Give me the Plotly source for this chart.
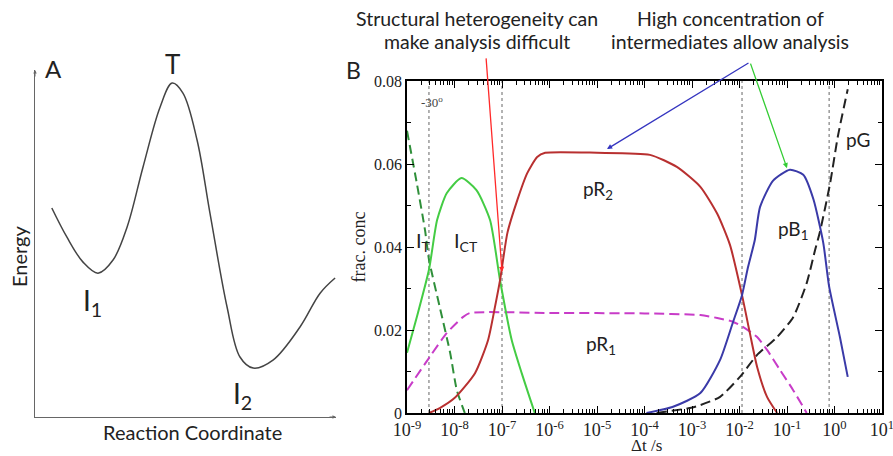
import plotly.graph_objects as go
import numpy as np

W, H = 893, 456

# ---------------- Panel A data (energy profile) ----------------
rc = [0.56, 1.06, 1.6, 2.1, 2.6, 3.07, 3.6, 4.17, 4.57, 4.93, 5.4, 5.83, 6.4, 6.83, 7.27, 7.93, 8.83, 9.5, 10.0]
energy = [6.06, 5.22, 4.49, 4.17, 4.55, 5.51, 7.25, 8.99, 9.68, 9.39, 8.03, 5.91, 3.19, 1.74, 1.42, 1.65, 2.61, 3.59, 4.03]

# ---------------- Panel B data (fractional concentrations) ----------------
t_IT = [1e-9, 1.6e-9, 2.4e-9, 2.9e-9, 4.9e-9, 8.1e-9, 1.12e-8, 1.65e-8]
y_IT = [0.068, 0.0555, 0.044, 0.037, 0.0255, 0.0145, 0.0055, 0.0]

t_ICT = [1e-9, 1.6e-9, 2.9e-9, 4.3e-9, 6.9e-9, 1.4e-8, 2.9e-8, 5.6e-8, 9.1e-8, 1.6e-7, 2.6e-7, 4.9e-7]
y_ICT = [0.0145, 0.023, 0.0345, 0.0465, 0.053, 0.0566, 0.0537, 0.0465, 0.032, 0.0176, 0.0096, 0.0]

t_pR2 = [2.9e-9, 4.9e-9, 1.0e-8, 2.7e-8, 5.1e-8, 7.1e-8, 9.1e-8, 1.3e-7, 2.1e-7, 3.4e-7, 5.5e-7, 8.1e-7,
         1e-5, 1.3e-4, 4.8e-4, 1.5e-3, 3.4e-3, 6.3e-3, 1.13e-2, 1.65e-2, 2.35e-2, 3.8e-2, 6.2e-2]
y_pR2 = [0.0, 0.0012, 0.0036, 0.0096, 0.0176, 0.0255, 0.032, 0.0434, 0.0513, 0.0578, 0.0617, 0.0627,
         0.0627, 0.0622, 0.0593, 0.0545, 0.048, 0.0405, 0.0284, 0.0193, 0.0111, 0.0039, 0.0]

t_pR1 = [1e-9, 3e-9, 6.9e-9, 1.5e-8, 2.1e-8, 1e-6, 1e-4, 1.5e-3, 3.4e-3, 7.2e-3, 1.2e-2, 2.35e-2, 3.8e-2, 7.1e-2, 0.135, 0.26]
y_pR1 = [0.0055, 0.0135, 0.0193, 0.0231, 0.0241, 0.0241, 0.0240, 0.0236, 0.0229, 0.022, 0.0207, 0.0183, 0.0152, 0.0104, 0.0055, 0.0]

t_pB1 = [1.1e-4, 4e-4, 1.5e-3, 3.9e-3, 7.2e-3, 1.13e-2, 1.5e-2, 2.1e-2, 2.7e-2, 5.1e-2, 0.115, 0.22, 0.36, 0.58, 0.77, 1.3, 1.9]
y_pB1 = [0.0, 0.0015, 0.0048, 0.0128, 0.0217, 0.0284, 0.035, 0.0417, 0.0496, 0.056, 0.0586, 0.0574, 0.0515, 0.041, 0.0305, 0.0183, 0.0087]

t_pG = [1.8e-4, 9e-4, 1.5e-3, 3.9e-3, 1.02e-2, 2.35e-2, 6.2e-2, 0.135, 0.26, 0.39, 0.49, 0.81, 1.17, 1.9]
y_pG = [0.0, 0.0012, 0.0019, 0.0039, 0.0087, 0.014, 0.0183, 0.0231, 0.0313, 0.0393, 0.0435, 0.0554, 0.0665, 0.078]

t_marks = [2.9e-9, 1e-7, 1.13e-2, 0.77]

x_tickvals = [10.0 ** k for k in range(-9, 2)]
x_ticktext = ["10<sup>%d</sup>" % k for k in range(-9, 2)]
y_tickvals = [0, 0.02, 0.04, 0.06, 0.08]
y_ticktext = ["0", "0.02", "0.04", "0.06", "0.08"]


def px(x):
    return x / W


def py(y):
    return 1 - y / H


fig = go.Figure()

# Panel A
fig.add_trace(go.Scatter(x=rc, y=energy, mode="lines", line=dict(color="#444444", width=1.5, shape="spline", smoothing=1.0),
                         xaxis="x", yaxis="y", showlegend=False, hoverinfo="skip"))

# Panel B vertical dotted markers
for tm in t_marks:
    fig.add_trace(go.Scatter(x=[tm, tm], y=[0, 0.08], mode="lines", line=dict(color="#666666", width=1, dash="dot"),
                             xaxis="x2", yaxis="y2", showlegend=False, hoverinfo="skip"))

series = [
    (t_pR1, y_pR1, "#c83cc8", "10px,5px"),
    (t_pG, y_pG, "#222222", "10px,5px"),
    (t_IT, y_IT, "#2f8f3a", "9px,5px"),
    (t_ICT, y_ICT, "#44cc44", "solid"),
    (t_pR2, y_pR2, "#b83030", "solid"),
    (t_pB1, y_pB1, "#3a3aa8", "solid"),
]
for tx, yy, col, dash in series:
    fig.add_trace(go.Scatter(x=tx, y=yy, mode="lines",
                             line=dict(color=col, width=2, dash=dash, shape="spline", smoothing=0.6),
                             xaxis="x2", yaxis="y2", showlegend=False, hoverinfo="skip"))

minor_x = [m * 10.0 ** k for k in range(-9, 1) for m in range(2, 10)]

serif = "Liberation Serif"
sans = "Lato"

fig.update_layout(
    template="none",
    width=W, height=H,
    margin=dict(l=0, r=0, t=0, b=0, autoexpand=False),
    paper_bgcolor="white", plot_bgcolor="white",
    xaxis=dict(domain=[px(35), px(336)], range=[0, 10.03], showline=True, linecolor="#666666", linewidth=1,
               showticklabels=False, ticks="", showgrid=False, zeroline=False, fixedrange=True, automargin=False),
    yaxis=dict(domain=[py(417), py(70)], range=[0, 10.06], showline=True, linecolor="#666666", linewidth=1,
               showticklabels=False, ticks="", showgrid=False, zeroline=False, fixedrange=True, automargin=False),
    xaxis2=dict(domain=[px(407), px(882)], type="log", range=[-9, 1], anchor="y2", automargin=False,
                ticklabeloverflow="allow",
                showline=True, linecolor="black", linewidth=1.5, mirror="ticks",
                tickmode="array", tickvals=x_tickvals, ticktext=x_ticktext,
                ticks="inside", ticklen=7, tickwidth=1.2, tickcolor="black",
                minor=dict(tickmode="array", tickvals=minor_x, ticks="inside", ticklen=4, tickcolor="black", showgrid=False),
                tickfont=dict(family=serif, size=18, color="#222"),
                showgrid=False, zeroline=False),
    yaxis2=dict(domain=[py(413), py(81)], range=[0, 0.08], anchor="x2", automargin=False,
                showline=True, linecolor="black", linewidth=1.5, mirror="ticks",
                tickmode="array", tickvals=y_tickvals, ticktext=y_ticktext,
                ticks="inside", ticklen=7, tickwidth=1.2, tickcolor="black",
                minor=dict(tickmode="array", tickvals=[0.01, 0.03, 0.05, 0.07], ticks="inside", ticklen=4, tickcolor="black"),
                tickfont=dict(family=serif, size=16, color="#222"),
                showgrid=False, zeroline=False,
                title=dict(text="frac. conc", font=dict(family=serif, size=18, color="#222"), standoff=4)),
)

ann = []


def txt(x, y, s, size, family=sans, color="#222222", angle=0):
    ann.append(dict(x=px(x), y=py(y), xref="paper", yref="paper", text=s, showarrow=False,
                    font=dict(family=family, size=size, color=color), textangle=angle,
                    xanchor="center", yanchor="middle"))


# Panel A labels
txt(53, 69, "A", 24)
txt(172, 64, "T", 26)
txt(92, 302, "I<sub>1</sub>", 28)
txt(242, 395, "I<sub>2</sub>", 28)
txt(19, 257, "Energy", 20, angle=-90)
txt(192, 432, "Reaction Coordinate", 20)

# Panel B labels
txt(353, 70, "B", 23)
txt(432, 102, "-30<sup>o</sup>", 13, family=serif, color="#444")
txt(423, 241, "I<sub>T</sub>", 20)
txt(466, 241, "I<sub>CT</sub>", 20)
txt(598, 190, "pR<sub>2</sub>", 19)
txt(601, 345, "pR<sub>1</sub>", 19)
txt(793, 230, "pB<sub>1</sub>", 19)
txt(858, 139, "pG", 19)
txt(646, 445, "Δt /s", 17, family=serif)

txt(477, 19, "Structural heterogeneity can", 19.5)
txt(477, 41, "make analysis difficult", 19.5)
txt(730, 19, "High concentration of", 19.5)
txt(730, 41, "intermediates allow analysis", 19.5)

# axis arrowheads panel A
ann.append(dict(x=0, y=10.06, xref="x", yref="y", ax=0, ay=8, axref="pixel", ayref="pixel", text="",
                showarrow=True, arrowhead=2, arrowsize=0.7, arrowwidth=1, arrowcolor="#666666"))
ann.append(dict(x=10.03, y=0, xref="x", yref="y", ax=-8, ay=0, text="",
                showarrow=True, arrowhead=2, arrowsize=0.7, arrowwidth=1, arrowcolor="#666666"))

# callout arrows panel B (log axis -> log10 coordinates)
ann.append(dict(x=-7.0, y=0.034, xref="x2", yref="y2", ax=-16, ay=-215, text="",
                showarrow=True, arrowhead=2, arrowsize=0.8, arrowwidth=1.3, arrowcolor="#ff2a2a"))
ann.append(dict(x=-4.79, y=0.0636, xref="x2", yref="y2", ax=143, ay=-87, text="",
                showarrow=True, arrowhead=2, arrowsize=0.8, arrowwidth=1.3, arrowcolor="#3535c0"))
ann.append(dict(x=-1.0, y=0.059, xref="x2", yref="y2", ax=-37, ay=-106, text="",
                showarrow=True, arrowhead=2, arrowsize=0.8, arrowwidth=1.3, arrowcolor="#33cc33"))

fig.update_layout(annotations=ann)

fig.write_html("out.html", config={"displayModeBar": False},
               post_script="document.body.style.margin='0';document.body.style.overflow='hidden';")
